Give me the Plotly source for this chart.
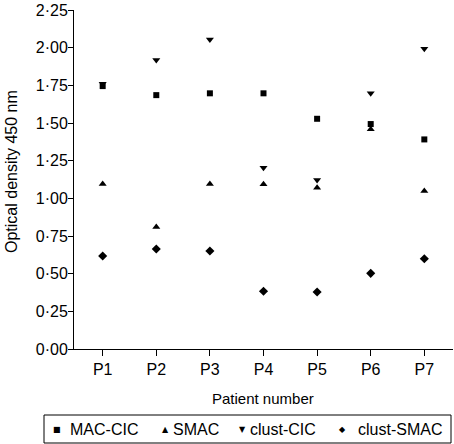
import plotly.graph_objects as go

patients = ["P1", "P2", "P3", "P4", "P5", "P6", "P7"]
mac_cic = [1.745, 1.685, 1.697, 1.697, 1.528, 1.493, 1.391]
smac = [1.095, 0.81, 1.095, 1.093, 1.07, 1.458, 1.048]
clust_cic = [1.76, 1.918, 2.055, 1.203, 1.121, 1.697, 1.993]
clust_smac = [0.617, 0.664, 0.65, 0.383, 0.378, 0.502, 0.599]

y_ticks = [0, 0.25, 0.5, 0.75, 1.0, 1.25, 1.5, 1.75, 2.0, 2.25]
y_ticktext = ["0·00", "0·25", "0·50", "0·75", "1·00", "1·25", "1·50", "1·75", "2·00", "2·25"]

series = [
    ("MAC-CIC", mac_cic, "square", 6, "■"),
    ("SMAC", smac, "triangle-up", 7, "▲"),
    ("clust-CIC", clust_cic, "triangle-down", 7, "▼"),
    ("clust-SMAC", clust_smac, "diamond", 7, "◆"),
]

fig = go.Figure()
for name, vals, sym, sz, _ in series:
    fig.add_trace(go.Scatter(
        x=list(range(len(patients))), y=vals, mode="markers", name=name,
        marker=dict(symbol=sym, size=sz, color="black", line=dict(width=0)),
        cliponaxis=False,
    ))

FAM = "Liberation Sans, Arial, sans-serif"
font = dict(family=FAM, size=16, color="black")
xtfont = dict(family=FAM, size=15, color="black")
ytfont = dict(family=FAM, size=16, color="black")
lfont = dict(family=FAM, size=16, color="black")

# plot area in pixels: x 74..453, y 10..349
L, R, T, B = 74, 453, 10, 349
def px(xp):
    return (xp - L) / (R - L)
def py(yp):
    return (B - yp) / (B - T)

# axis titles
fig.add_annotation(xref="paper", yref="paper", x=px(263), y=py(398),
                   text="Patient number", showarrow=False,
                   xanchor="center", yanchor="middle", font=xtfont)
fig.add_annotation(xref="paper", yref="paper", x=px(11), y=py(172),
                   text="Optical density 450 nm", showarrow=False, textangle=-90,
                   xanchor="center", yanchor="middle", font=ytfont)

# manual legend box
fig.add_shape(type="rect", xref="paper", yref="paper",
              x0=px(44), x1=px(451), y0=py(443), y1=py(415),
              line=dict(color="black", width=1), fillcolor="rgba(0,0,0,0)")
leg_sym_x = [57, 165, 242, 342]
leg_txt_x = [68, 171, 248, 356]
leg_y = py(429)
for (name, _, _, _, ch), sx, tx in zip(series, leg_sym_x, leg_txt_x):
    fig.add_annotation(xref="paper", yref="paper", x=px(sx), y=leg_y,
                       text=ch, showarrow=False, xanchor="center", yanchor="middle",
                       font=dict(family="DejaVu Sans", size=8, color="black"))
    fig.add_annotation(xref="paper", yref="paper", x=px(tx), y=leg_y,
                       text=name, showarrow=False, xanchor="left", yanchor="middle",
                       font=lfont)

fig.update_layout(
    width=454, height=444,
    margin=dict(l=L, r=454 - R, t=T, b=444 - B, autoexpand=False),
    paper_bgcolor="white", plot_bgcolor="white",
    font=font,
    showlegend=False,
    xaxis=dict(
        range=[-0.535, 6.535], tickmode="array",
        tickvals=list(range(len(patients))), ticktext=patients,
        showline=True, linecolor="black", linewidth=1,
        ticks="outside", ticklen=6, tickcolor="black",
        showgrid=False, zeroline=False, automargin=False,
    ),
    yaxis=dict(
        range=[0, 2.25], tickmode="array", tickvals=y_ticks, ticktext=y_ticktext,
        showline=True, linecolor="black", linewidth=1,
        ticks="outside", ticklen=5, tickcolor="black",
        showgrid=False, zeroline=False, automargin=False,
        ticklabelstandoff=-3,
    ),
)

fig.write_html("out.html", config={"displayModeBar": False},
               post_script="document.body.style.margin='0';document.body.style.overflow='hidden';")
